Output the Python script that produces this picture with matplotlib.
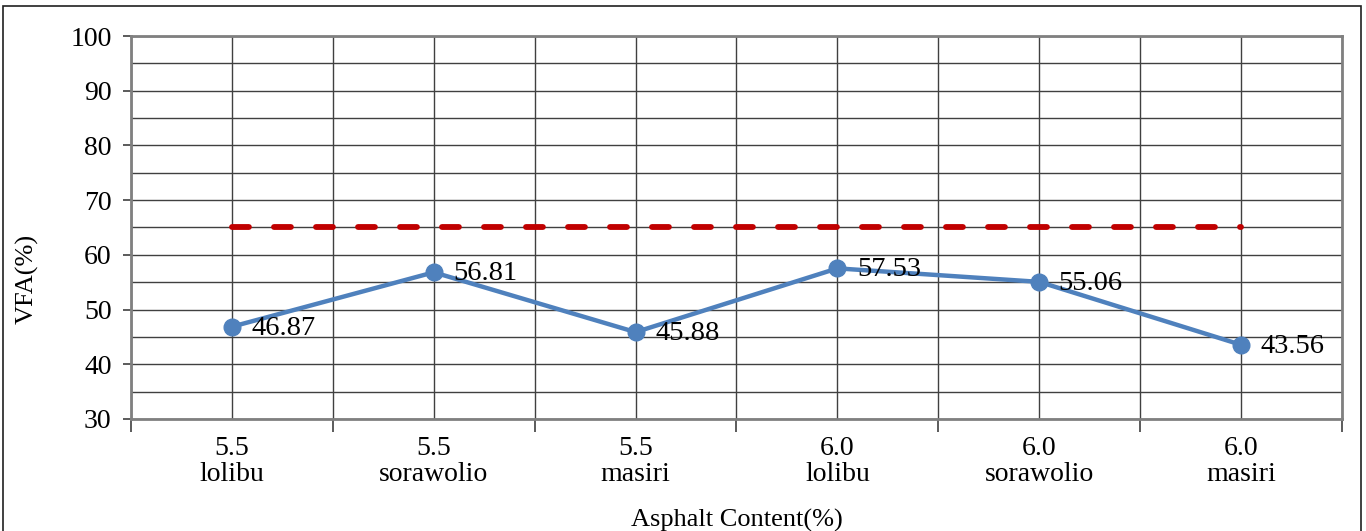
import matplotlib.pyplot as plt
from matplotlib.patches import Rectangle
from matplotlib.ticker import MultipleLocator, FixedLocator

# VFA values per asphalt content / aggregate source
content = ['5.5', '5.5', '5.5', '6.0', '6.0', '6.0']
source = ['lolibu', 'sorawolio', 'masiri', 'lolibu', 'sorawolio', 'masiri']
vfa = [46.87, 56.81, 45.88, 57.53, 55.06, 43.56]
spec_limit = 65

plt.rcParams['font.family'] = ['Liberation Serif', 'DejaVu Serif']

fig = plt.figure(figsize=(13.66, 5.31), dpi=100)
ax = fig.add_axes([131 / 1366, 1 - 419 / 531, (1342 - 131) / 1366, (419 - 36) / 531])

x = list(range(len(vfa)))

# spec limit line
ax.plot(x, [spec_limit] * len(x), color='#C00000', lw=4.2,
        dashes=(2.9, 4.3), dash_capstyle='round', solid_capstyle='round', zorder=3)

ax.plot(x, vfa, color='#4F81BD', lw=3.2, marker='o', ms=12, zorder=4)
for xi, v in zip(x, vfa):
    ax.annotate(f'{v:.2f}', (xi, v), xytext=(14, -1), textcoords='offset points',
                ha='left', va='center', fontsize=20.5, zorder=5)

ax.set_xlim(-0.5, 5.5)
ax.set_ylim(30, 100)
ax.yaxis.set_major_locator(MultipleLocator(10))
ax.yaxis.set_minor_locator(MultipleLocator(5))
ax.set_xticks(x)
ax.set_xticklabels([f'{c}\n{s}' for c, s in zip(content, source)], fontsize=20,
                   linespacing=1.08)
ax.xaxis.set_minor_locator(FixedLocator([i + 0.5 for i in range(-1, 6)]))

ax.tick_params(axis='y', which='major', direction='out', length=6, width=1.2,
               labelsize=20, pad=8, color='#404040')
ax.tick_params(axis='y', which='minor', length=0)
ax.tick_params(axis='x', which='major', length=0, pad=12)
ax.tick_params(axis='x', which='minor', direction='out', length=9, width=1.2,
               color='#404040')

ax.grid(True, which='both', axis='both', color='#404040', lw=1.0, zorder=1)
ax.set_axisbelow(True)
for side in ax.spines.values():
    side.set_color('#808080')
    side.set_linewidth(2)

fig.text(27 / 1366, 1 - 279 / 531, 'VFA(%)', rotation=90, fontsize=19,
         ha='center', va='center')
fig.text((131 + 1342) / 2 / 1366, 1 - 520 / 531, 'Asphalt Content(%)',
         fontsize=19, ha='center', va='center')

# outer frame
fig.patches.append(Rectangle((3 / 1366, -0.05), 1358 / 1366, 1.05 - 6 / 531,
                             transform=fig.transFigure, fill=False,
                             edgecolor='#202020', lw=1.2))

fig.savefig('out.png', dpi=100)
